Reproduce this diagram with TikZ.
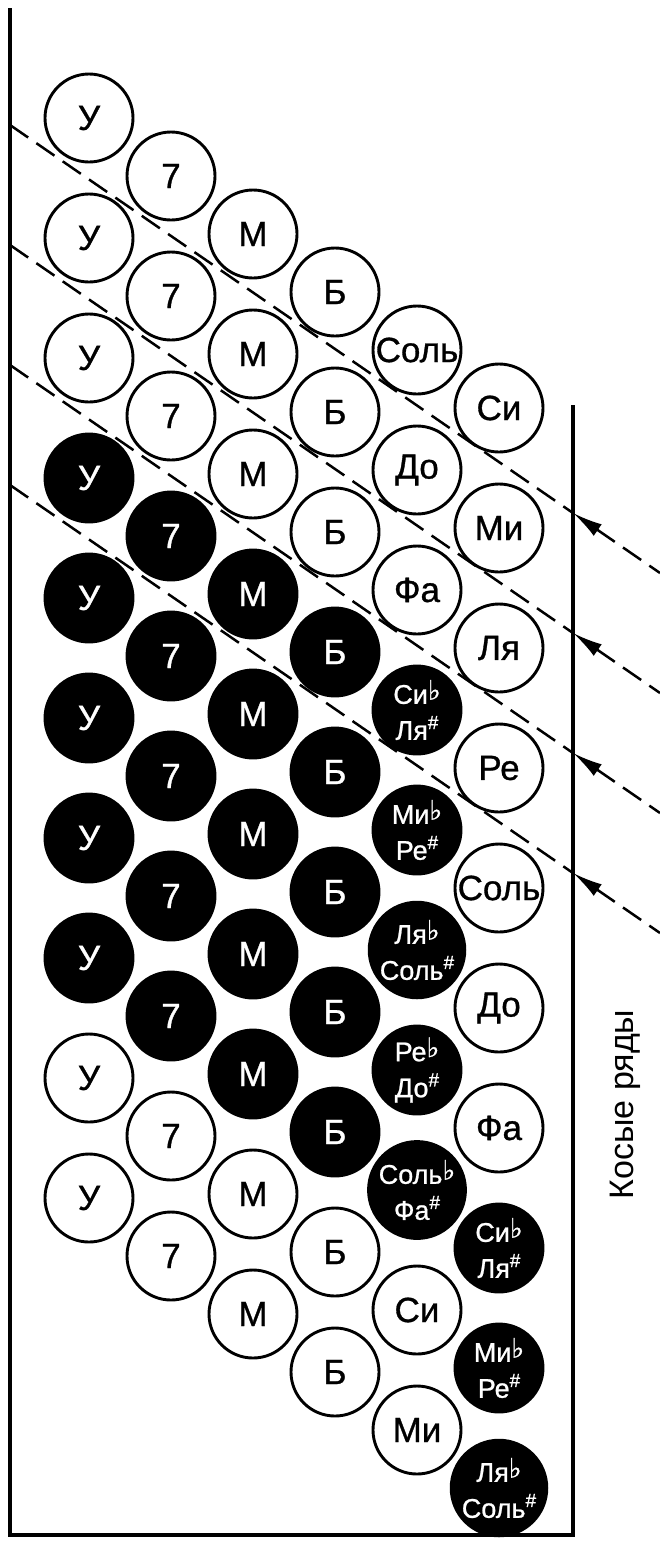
\documentclass[tikz,border=0pt]{standalone}
\usepackage{fontspec}
\setmainfont{Liberation Sans}
\newfontfamily\knopf{Liberation Sans}[FakeBold=0.9]
\newfontfamily\zeichen{DejaVu Sans}[FakeBold=0.9]
\usetikzlibrary{arrows.meta}

\newcommand{\bmol}{\raisebox{.15em}{\zeichen\fontsize{27}{27}\selectfont ♭}}
\newcommand{\diez}{\raisebox{.4em}{\fontsize{19}{19}\selectfont\#}}

\begin{document}
\begin{tikzpicture}[x=1pt, y=-1pt,
  wbtn/.style={circle, draw, line width=2.9pt, fill=white, minimum size=88pt,
    inner sep=0pt, font=\knopf\fontsize{35}{38}\selectfont},
  bbtn/.style={wbtn, fill=black, text=white},
  dbtn/.style={bbtn, align=center, font=\knopf\fontsize{27}{36}\selectfont},
  reihe/.style={dash pattern=on 22pt off 10pt, line width=2.5pt},
  rahmen/.style={line width=3.8pt}]

  % 参数：按钮间距（单位 pt，y 轴向下）
  \pgfmathsetmacro{\xa}{89}
  \pgfmathsetmacro{\ya}{118}
  \pgfmathsetmacro{\dx}{82}
  \pgfmathsetmacro{\dy}{120}
  \pgfmathsetmacro{\sh}{58}

  \useasboundingbox (0,0) rectangle (660,1543);

  % 外框
  \draw[rahmen] (10,8) -- (10,1535) -- (573,1535) -- (573,405);

  % ---- 斜排虚线与箭头 ----
  \foreach \m in {0,...,3}{
    \coordinate (L\m) at (10,{125+120*\m});
    \coordinate (A\m) at (573,{513+120*\m});
    \coordinate (E\m) at (660,{573+120*\m});
    \draw[reihe] (L\m) -- (A\m);
    \draw[reihe, {Latex[length=30pt, width=14pt]}-] (A\m) -- (E\m);
  }

  % ---- 和弦按钮（前四列）----
  \foreach \col/\lab in {1/У, 2/7, 3/М, 4/Б}{
    \foreach \k in {0,...,9}{
      \ifnum\k<3 \def\sty{wbtn}\else\ifnum\k>7 \def\sty{wbtn}\else\def\sty{bbtn}\fi\fi
      \node[\sty] (b\col-\k) at ({\xa+\dx*(\col-1)}, {\ya+\sh*(\col-1)+\dy*\k}) {\lab};
    }
  }

  % 第五列：基本低音
  \foreach \k/\lab/\sty in {0/Соль/wbtn, 1/До/wbtn, 2/Фа/wbtn,
      3/{Си\bmol\\Ля\diez}/dbtn, 4/{Ми\bmol\\Ре\diez}/dbtn,
      5/{Ля\bmol\\Соль\diez}/dbtn, 6/{Ре\bmol\\До\diez}/dbtn,
      7/{Соль\bmol\\Фа\diez}/dbtn, 8/Си/wbtn, 9/Ми/wbtn}
    \node[\sty] (b5-\k) at ({\xa+4*\dx}, {\ya+4*\sh+\dy*\k}) {\lab};

  % 第六列：辅助低音
  \foreach \k/\lab/\sty in {0/Си/wbtn, 1/Ми/wbtn, 2/Ля/wbtn, 3/Ре/wbtn,
      4/Соль/wbtn, 5/До/wbtn, 6/Фа/wbtn,
      7/{Си\bmol\\Ля\diez}/dbtn, 8/{Ми\bmol\\Ре\diez}/dbtn,
      9/{Ля\bmol\\Соль\diez}/dbtn}
    \node[\sty] (b6-\k) at ({\xa+5*\dx}, {\ya+5*\sh+\dy*\k}) {\lab};

  % 说明文字
  \node[rotate=90, anchor=base west, font=\fontsize{34}{40}\selectfont] (kosye)
    at (633,1203) {Косые ряды};

\end{tikzpicture}
\end{document}
